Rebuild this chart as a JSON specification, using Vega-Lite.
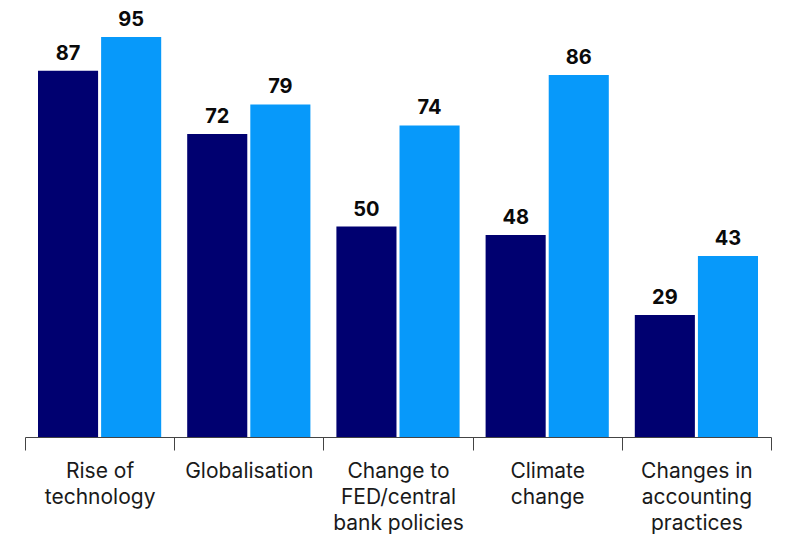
{
  "$schema": "https://vega.github.io/schema/vega-lite/v6.json",
  "width": 746,
  "height": 421,
  "autosize": {"type": "none"},
  "padding": {"left": 25, "top": 16, "right": 17, "bottom": 101},
  "background": "white",
  "config": {"view": {"stroke": null}},
  "data": {
    "values": [
      {"cat": "Rise of|technology", "series": "A", "value": 87},
      {"cat": "Rise of|technology", "series": "B", "value": 95},
      {"cat": "Globalisation", "series": "A", "value": 72},
      {"cat": "Globalisation", "series": "B", "value": 79},
      {"cat": "Change to|FED/central|bank policies", "series": "A", "value": 50},
      {"cat": "Change to|FED/central|bank policies", "series": "B", "value": 74},
      {"cat": "Climate|change", "series": "A", "value": 48},
      {"cat": "Climate|change", "series": "B", "value": 86},
      {"cat": "Changes in|accounting|practices", "series": "A", "value": 29},
      {"cat": "Changes in|accounting|practices", "series": "B", "value": 43}
    ]
  },
  "encoding": {
    "x": {
      "field": "cat",
      "type": "nominal",
      "sort": null,
      "title": null,
      "scale": {"paddingInner": 0, "paddingOuter": 0},
      "axis": {
        "labelAngle": 0,
        "tickBand": "extent",
        "labelExpr": "split(datum.label, '|')",
        "labelFont": "Inter",
        "labelFontSize": 21,
        "labelLineHeight": 26,
        "labelColor": "#1a1a1a",
        "labelPadding": 10,
        "labelBaseline": "top",
        "domainColor": "#444444",
        "tickColor": "#444444",
        "tickSize": 13,
        "domainWidth": 1,
        "tickWidth": 1
      }
    },
    "xOffset": {
      "field": "series",
      "type": "nominal",
      "scale": {"paddingInner": 0.048, "paddingOuter": 0.206}
    },
    "y": {
      "field": "value",
      "type": "quantitative",
      "scale": {"domain": [0, 100]},
      "axis": null
    }
  },
  "layer": [
    {
      "mark": {"type": "bar"},
      "encoding": {
        "color": {
          "field": "series",
          "type": "nominal",
          "scale": {"domain": ["A", "B"], "range": ["#000070", "#0799fa"]},
          "legend": null
        }
      }
    },
    {
      "mark": {
        "type": "text",
        "baseline": "alphabetic",
        "dy": -11,
        "font": "Inter",
        "fontSize": 20,
        "fontWeight": "bold",
        "color": "#0a0a0a"
      },
      "encoding": {"text": {"field": "value", "type": "quantitative"}}
    }
  ]
}
